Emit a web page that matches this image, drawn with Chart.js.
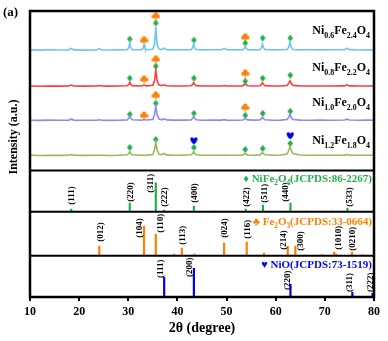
<!DOCTYPE html>
<html><head><meta charset="utf-8">
<script src="https://cdn.jsdelivr.net/npm/chart.js@4.4.0/dist/chart.umd.min.js"></script>
<style>html,body{margin:0;padding:0;background:#fff}#wrap{width:388px;height:341px;position:relative}</style>
</head><body><div id="wrap"><canvas id="c"></canvas></div>
<script>
// ---------- DATA ----------
const twoTheta = [10,12,14,16,17.9,18.4,18.9,21,23.6,24.1,24.6,26,28,29.8,30.1,30.3,30.5,30.8,32.7,33.0,33.2,33.4,33.7,35.0,35.35,35.6,35.85,36.2,36.8,37.3,37.8,39,41,42.8,43.1,43.3,43.5,43.8,45,47,49.0,49.5,50.0,52,53.3,53.6,53.8,54.0,54.3,55.5,56.8,57.1,57.3,57.5,57.8,59.5,61,62.3,62.65,62.9,63.15,63.5,65,67,69,71,74.0,74.5,75.0,77,79,80];
const ni06 = [120.3,120.0,120.4,120.1,120.2,121.8,120.3,120.0,120.2,121.5,120.2,120.1,120.3,120.4,122.5,127,122.5,120.5,120.4,121.8,125,121.8,120.4,120.8,126,143,126,121.2,120.5,122,120.5,120.3,120.4,120.5,122.5,126,122.5,120.6,120.3,120.4,120.4,121.8,120.4,120.3,120.5,121.8,123.5,121.8,120.5,120.3,120.5,122.5,126,122.5,120.6,120.3,120.4,120.6,123,128,123,120.7,120.3,120.4,120.3,120.4,120.5,122,120.5,120.2,120.3,120.2];
const ni08 = [84.2,84.0,84.3,84.1,84.3,85.2,84.3,84.1,84.2,84.7,84.2,84.1,84.2,84.5,86,88,86,84.6,84.3,84.8,85.2,84.8,84.4,85,90,100,90,85.5,84.6,85.5,84.5,84.3,84.3,84.5,86,87.5,86,84.6,84.2,84.3,84.3,84.8,84.3,84.2,84.4,85.5,86.5,85.5,84.5,84.3,84.5,86,87.5,86,84.6,84.2,84.3,84.8,87,89.5,87,84.9,84.3,84.2,84.3,84.2,84.4,85.5,84.4,84.2,84.3,84.1];
const ni10 = [50.2,50.0,50.3,50.1,50.3,51.2,50.3,50.1,50.2,50.6,50.2,50.0,50.2,50.5,52,54,52,50.6,50.3,50.7,51,50.7,50.4,51,56,64,56,51.5,50.6,51.6,50.5,50.3,50.3,50.5,52,54,52,50.6,50.2,50.3,50.3,50.7,50.3,50.2,50.4,51.3,52,51.3,50.5,50.3,50.5,51.8,53,51.8,50.6,50.2,50.3,50.8,53,56,53,50.9,50.3,50.2,50.3,50.2,50.4,51.2,50.4,50.2,50.3,50.1];
const ni12 = [15.2,15.0,15.3,15.1,15.3,16,15.3,15.1,15.2,15.3,15.2,15.0,15.2,15.7,17,19,17,15.7,15.3,15.3,15.3,15.3,15.4,16,21,28,21,16.5,15.8,17,15.6,15.3,15.4,15.8,17,19,17,15.8,15.3,15.3,15.3,15.4,15.3,15.2,15.4,16.3,17,16.3,15.5,15.3,15.6,16.8,18,16.8,15.7,15.3,15.5,16.5,20,24,20.5,17,15.5,15.3,15.3,15.2,15.4,16,15.4,15.2,15.3,15.2];
const sampleNames = [
  [["Ni",0],["0.6",1],["Fe",0],["2.4",1],["O",0],["4",1]],
  [["Ni",0],["0.8",1],["Fe",0],["2.2",1],["O",0],["4",1]],
  [["Ni",0],["1.0",1],["Fe",0],["2.0",1],["O",0],["4",1]],
  [["Ni",0],["1.2",1],["Fe",0],["1.8",1],["O",0],["4",1]]
];
// phase markers on the patterns [2θ, height]
const diamondMarks = [[30.3,131],[35.6,147],[43.35,130],[53.8,127],[57.35,132],[62.95,132],
  [30.3,92],[35.6,104],[43.35,92],[53.8,89],[57.35,92],[62.95,95],
  [30.3,56],[35.6,67],[43.35,57],[53.8,55],[57.35,57],[62.95,59],
  [30.3,23],[35.6,31],[43.35,23],[53.8,21],[57.35,22],[62.95,27]];
const clubMarks = [[33.2,130],[35.6,154],[53.8,133],[33.2,91],[35.6,111],[53.8,97],[33.2,55],[35.6,75],[53.8,63]];
const heartMarks = [[43.35,30],[62.95,35]];
// reference patterns
const niFePos = [18.4,30.3,35.6,37.3,43.35,47.4,53.9,57.4,63.0,66.3,67.4,71.6,74.6,75.6,79.6];
const niFeInt = [3,9,29,2,6,1,3,7,9,1,1,1,4,1,1];
const niFeHkl = ["(111)","(220)","(311)","(222)","(400)","(422)","(511)","(440)","(533)"];
const niFeHklX = [18.4,30.35,34.55,37.3,43.4,53.95,57.6,61.9,74.9];
const niFeHklY = [7,10,19,5,9,5,9,10,5];
const fePos = [24.1,33.2,35.6,39.3,40.9,43.5,49.5,54.1,56.3,57.6,62.45,64.0,65.9,69.5,71.9,72.3,75.5,77.7,78.8];
const feInt = [10,30,22,2,8,2,13,14,1,3,10,10,1,1.5,4,2,4,1.5,1];
const feHkl = ["(012)","(104)","(110)","(113)","(024)","(116)","(214)","(300)","(1010)","(0210)"];
const feHklX = [24.25,32.2,36.4,40.9,49.5,54.15,61.5,64.95,72.7,75.5];
const feHklY = [14,18,23,11,18,17,6,5,6,5];
const nioPos = [37.3,43.35,63.0,75.6,79.7];
const nioInt = [20,29,13,5,4];
const nioHkl = ["(111)","(200)","(220)","(311)","(222)"];
const nioHklX = [36.45,42.35,62.3,74.9,79.2];
const nioHklY = [19,20,7,5,5];
const xTicks = [10,20,30,40,50,60,70,80];

// ---------- STYLE ----------
const FONT = '"Liberation Serif", "Times New Roman", serif';
const C_BLUE='#6cc6f4', C_RED='#ff3b3b', C_PURP='#8c8cf0', C_GRN='#98b85a';
const C_REFG='#22b04a', C_REFO='#ff8000', C_REFB='#0000ff';

function glyph(kind,color){
  const c=document.createElement('canvas'); c.width=9; c.height=9;
  const g=c.getContext('2d'); g.fillStyle=color;
  if(kind==='diamond'){ g.beginPath(); g.moveTo(4.5,1); g.lineTo(7.3,4.5); g.lineTo(4.5,8); g.lineTo(1.7,4.5); g.closePath(); g.fill(); }
  else if(kind==='club'){ [[4.5,2.6],[2.4,5],[6.6,5]].forEach(p=>{g.beginPath(); g.arc(p[0],p[1],2.1,0,Math.PI*2); g.fill();}); g.fillRect(3.9,4.5,1.2,4.2); }
  else { g.beginPath(); g.moveTo(4.5,8.3); g.bezierCurveTo(0,5,0.3,1,2.5,1.2); g.bezierCurveTo(3.7,1.3,4.3,2.2,4.5,3); g.bezierCurveTo(4.7,2.2,5.3,1.3,6.5,1.2); g.bezierCurveTo(8.7,1,9,5,4.5,8.3); g.fill(); }
  return c;
}
const pts = (xs,ys)=>xs.map((x,i)=>({x, y:ys[i]}));
const sticks = (pos,ints)=>{const d=[]; pos.forEach((p,i)=>{d.push({x:p,y:0},{x:p,y:ints[i]},{x:p,y:null});}); return d;};
const pairs = a=>a.map(p=>({x:p[0],y:p[1]}));

const lineDs=(data,color,yid,w)=>({type:'line',data,borderColor:color,borderWidth:w,pointRadius:0,tension:0,yAxisID:yid,spanGaps:false,borderCapStyle:'butt'});

function drawRich(ctx,parts,x,y,size,color,align){
  const mf='bold '+size+'px '+FONT, sf='bold '+(size*0.66).toFixed(1)+'px '+FONT;
  let w=0; parts.forEach(p=>{ctx.font=p[1]?sf:mf; w+=ctx.measureText(p[0]).width;});
  let cx = align==='right'? x-w : (align==='center'? x-w/2 : x);
  ctx.fillStyle=color; ctx.textBaseline='alphabetic'; ctx.textAlign='left';
  parts.forEach(p=>{ctx.font=p[1]?sf:mf; ctx.fillText(p[0],cx,y+size*0.35+(p[1]?size*0.28:0)); cx+=ctx.measureText(p[0]).width;});
}

const deco = {
  id:'deco',
  afterDraw(chart){
    const ctx=chart.ctx, a=chart.chartArea, S=chart.scales, x=S.x;
    ctx.save();
    ctx.strokeStyle='#000'; ctx.lineWidth=2.5;
    ctx.strokeRect(a.left,a.top,a.right-a.left,a.bottom-a.top);
    ctx.lineWidth=2;
    ['y1','y2','y3'].forEach(k=>{const t=S[k].top; ctx.beginPath(); ctx.moveTo(a.left,t); ctx.lineTo(a.right,t); ctx.stroke();});
    ctx.fillStyle='#000'; ctx.font='bold 9px '+FONT; ctx.textAlign='left'; ctx.textBaseline='middle';
    const lab=(txt,xs,ys,sc)=>txt.forEach((t,i)=>{ctx.save(); ctx.translate(x.getPixelForValue(xs[i]), sc.getPixelForValue(ys[i])); ctx.rotate(-Math.PI/2); ctx.fillText(t,0,0.5); ctx.restore();});
    lab(niFeHkl,niFeHklX,niFeHklY,S.y1);
    lab(feHkl,feHklX,feHklY,S.y2);
    lab(nioHkl,nioHklX,nioHklY,S.y3);
    drawRich(ctx,[["\u2666 NiFe",0],["2",1],["O",0],["4",1],["(JCPDS:86-2267)",0]],a.right-2,S.y1.top+8,11,C_REFG,'right');
    drawRich(ctx,[["\u2663 Fe",0],["2",1],["O",0],["3",1],["(JCPDS:33-0664)",0]],a.right-2,S.y2.top+9.5,11,C_REFO,'right');
    drawRich(ctx,[["\u2665 NiO(JCPDS:73-1519)",0]],a.right-2,S.y3.top+8,11,C_REFB,'right');
    const ny=[30,67,102,140];
    sampleNames.forEach((p,i)=>drawRich(ctx,p,a.right-4,ny[i],12,'#000','right'));
    ctx.fillStyle='#000'; ctx.font='bold 13px '+FONT; ctx.textAlign='left'; ctx.textBaseline='middle';
    ctx.fillText('(a)',3,13);
    ctx.save(); ctx.translate(14,137); ctx.rotate(-Math.PI/2); ctx.font='bold 12px '+FONT; ctx.textAlign='center'; ctx.fillText('Intensity (a.u.)',0,0); ctx.restore();
    ctx.font='bold 14px '+FONT; ctx.textAlign='center'; ctx.fillText('2\u03b8 (degree)',(a.left+a.right)/2,328);
    ctx.restore();
  }
};

const hideY = (w,max)=>({type:'linear',position:'left',stack:'p',stackWeight:w,min:0,max:max,offset:false,
  ticks:{display:false},grid:{display:false,drawTicks:false},border:{display:false},afterFit(s){s.width=0;}});

new Chart(document.getElementById('c'),{
  data:{datasets:[
    lineDs(pts(twoTheta,ni06),C_BLUE,'y0',1.6),
    lineDs(pts(twoTheta,ni08),C_RED,'y0',1.6),
    lineDs(pts(twoTheta,ni10),C_PURP,'y0',1.6),
    lineDs(pts(twoTheta,ni12),C_GRN,'y0',1.6),
    {type:'scatter',data:pairs(diamondMarks),yAxisID:'y0',pointStyle:glyph('diamond','#1fae4a'),pointRadius:4},
    {type:'scatter',data:pairs(clubMarks),yAxisID:'y0',pointStyle:glyph('club','#ff8000'),pointRadius:4},
    {type:'scatter',data:pairs(heartMarks),yAxisID:'y0',pointStyle:glyph('heart','#0000e6'),pointRadius:4},
    lineDs(sticks(niFePos,niFeInt),C_REFG,'y1',2.2),
    lineDs(sticks(fePos,feInt),C_REFO,'y2',2.2),
    lineDs(sticks(nioPos,nioInt),C_REFB,'y3',2.2)
  ]},
  options:{
    responsive:true,maintainAspectRatio:false,animation:false,
    layout:{padding:{left:30,right:14,top:11,bottom:0}},
    plugins:{legend:{display:false},tooltip:{enabled:false}},
    scales:{
      x:{type:'linear',min:10,max:80,
        afterBuildTicks(s){s.ticks=xTicks.map(v=>({value:v}));},
        ticks:{font:{family:FONT,size:12,weight:'bold'},color:'#000',padding:4,maxRotation:0},
        grid:{drawOnChartArea:false,tickLength:4,color:'#000',lineWidth:2},
        border:{display:false},
        afterFit(s){s.height=44;}},
      y3:hideY(41,41),
      y2:hideY(44,44),
      y1:hideY(41,41),
      y0:hideY(159,159)
    }
  },
  plugins:[deco]
});
</script></body></html>
